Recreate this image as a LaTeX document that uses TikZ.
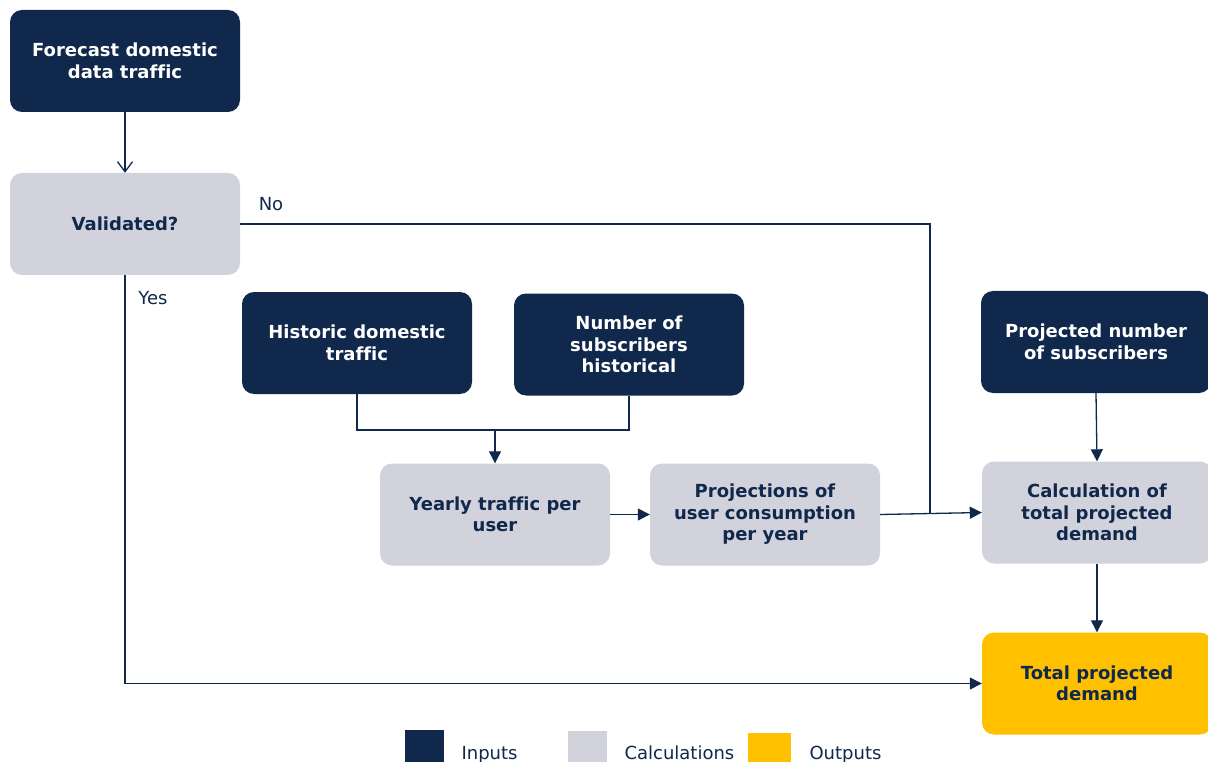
\documentclass[tikz,border=0pt]{standalone}
\usepackage{fontspec}
\setmainfont{DejaVu Sans}[Ligatures={NoCommon}]
\usetikzlibrary{arrows.meta}
\definecolor{navy}{HTML}{0F284B}
\definecolor{calcgray}{HTML}{D2D2DC}
\definecolor{outyellow}{HTML}{FFC000}
\tikzset{
  box/.style={rounded corners=12pt, minimum width=230pt, minimum height=102pt,
    inner sep=0pt, align=center, font=\fontsize{18}{21.5}\selectfont\bfseries},
  inbox/.style={box, fill=navy, text=white},
  calcbox/.style={box, fill=calcgray, text=navy},
  outbox/.style={box, fill=outyellow, text=navy},
  link/.style={draw=navy, line width=1.3pt},
  arr/.style={link, -{Triangle[length=12pt,width=12pt]}},
  openarr/.style={link, -{Straight Barb[length=10pt,width=15pt,line width=1.3pt]}},
  lbl/.style={text=navy, font=\fontsize{18}{21.5}\selectfont},
  legsq/.style={minimum width=#1, minimum height=34pt, inner sep=0pt, anchor=north west}
}
\begin{document}
\begin{tikzpicture}[x=1pt,y=-1pt]
\useasboundingbox (0,0) rectangle (1208,762);
\fill[white] (0,0) rectangle (1208,762);

% boxes
\node[inbox]   (fc)   at (125,61)    {Forecast domestic\\data traffic};
\node[calcbox] (val)  at (125,224)   {Validated?};
\node[inbox]   (hist) at (357,343)   {Historic domestic\\traffic};
\node[inbox]   (num)  at (629,344.5) {Number of\\subscribers\\historical};
\node[calcbox] (yr)   at (495,514.5) {Yearly traffic per\\user};
\node[calcbox] (proj) at (765,514.5) {Projections of\\user consumption\\per year};
\node[inbox]   (pns)  at (1096,342)  {Projected number\\of subscribers};
\node[calcbox] (calc) at (1097,512.5){Calculation of\\total projected\\demand};
\node[outbox]  (tot)  at (1097,683.5){Total projected\\demand};

% connectors
\coordinate (merge) at (495,430);
\coordinate (nojoin) at (930,514);
\draw[openarr] (fc.south) -- (val.north);
\draw[link] (val.east) -| (nojoin);
\draw[arr] (val.south) |- (tot.west);
\draw[link] (hist.south) |- (merge) -| (num.south);
\draw[arr] (merge) -- (yr.north);
\draw[arr] (yr.east) -- (proj.west);
\draw[arr] (proj.east) -- (calc.west);
\draw[arr] (pns.south) -- (calc.north);
\draw[arr] (calc.south) -- (tot.north);

\node[lbl] (nolbl)  at (271,204) {No};
\node[lbl] (yeslbl) at (153,298) {Yes};

% legend
\node[legsq=39pt, fill=navy]       (lin)  at (405,730) {};
\node[legsq=39pt, fill=calcgray]   (lcal) at (568,731) {};
\node[legsq=43pt, fill=outyellow]  (lout) at (748,733) {};
\node[lbl, anchor=base west] (tin)  at (458,759) {Inputs};
\node[lbl, anchor=base west] (tcal) at (621,759) {Calculations};
\node[lbl, anchor=base west] (tout) at (806,759) {Outputs};
\end{tikzpicture}
\end{document}
